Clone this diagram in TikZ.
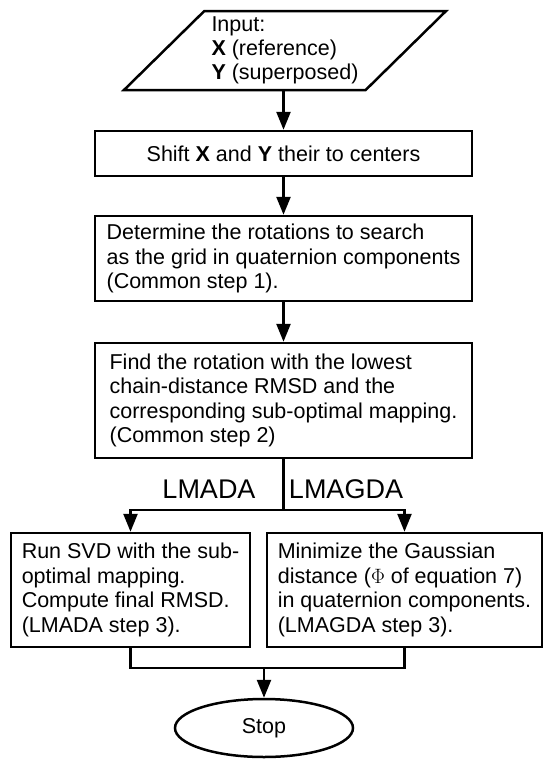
\documentclass[tikz,border=0pt]{standalone}
\usepackage{fontspec}
\setmainfont{Liberation Sans}
\usetikzlibrary{shapes.geometric, arrows.meta, positioning, calc}

\begin{document}
\begin{tikzpicture}[x=1pt, y=-1pt,
    flowline/.style={line width=2.5pt},
    flowarrow/.style={line width=2.5pt, -{Triangle[length=18pt,width=14pt]}},
    procbox/.style={draw, line width=2.5pt, rectangle, inner sep=4pt,
        align=left, font=\fontsize{21.5}{24.5}\selectfont},
    iobox/.style={draw, line width=2.5pt, trapezium, trapezium left angle=44,
        trapezium right angle=136, trapezium stretches=true, align=left,
        font=\fontsize{21.5}{24}\selectfont},
    termbox/.style={draw, line width=2.5pt, ellipse, font=\fontsize{21.5}{25}\selectfont},
    branchlabel/.style={font=\fontsize{27}{30}\selectfont}]
    \useasboundingbox (0,0) rectangle (550,764);

    % input / output
    \node[iobox, minimum width=323pt, minimum height=79pt] (input) at (285,50.5)
        {Input:\\\textbf{X} (reference)\\\textbf{Y} (superposed)};
    \node[termbox, minimum width=178pt, minimum height=58pt] (stop) at (264,728) {Stop};

    % common steps
    \node[procbox, align=center, minimum width=377pt, minimum height=45pt] (shift) at (283.5,153.5)
        {Shift \textbf{X} and \textbf{Y} their to centers};
    \node[procbox, minimum width=377pt, minimum height=85pt] (grid) at (283.5,258.5)
        {Determine the rotations to search\\as the grid in quaternion components\\(Common step 1).};
    \node[procbox, minimum width=377pt, minimum height=115pt] (find) at (283.5,400.5)
        {Find the rotation with the lowest\\chain-distance RMSD and the\\corresponding sub-optimal mapping.\\(Common step 2)};

    % method steps
    \node[procbox, minimum width=239pt, minimum height=114pt] (svd) at (130.5,590)
        {Run SVD with the sub-\\optimal mapping.\\Compute final RMSD.\\(LMADA step 3).};
    \node[procbox, minimum width=275pt, minimum height=114pt] (gauss) at (404.5,590)
        {Minimize the Gaussian\\distance ($\Phi$ of equation 7)\\in quaternion components.\\(LMAGDA step 3).};

    \node[branchlabel] (lmada) at (209,489) {LMADA};
    \node[branchlabel] (lmagda) at (346,489) {LMAGDA};

    % connectors
    \coordinate (split) at (283.5,510);
    \coordinate (merge) at (264,668);

    \draw[flowarrow] (shift.north |- input.south) -- (shift.north);
    \draw[flowarrow] (shift) -- (grid);
    \draw[flowarrow] (grid) -- (find);
    \draw[flowline] (find.south) -- (split);
    \draw[flowarrow] (split) -| (svd.north);
    \draw[flowarrow] (split) -| (gauss.north);
    \draw[flowline] (svd.south) |- (merge) -| (gauss.south);
    \draw[flowarrow] (merge) -- (stop.north);
\end{tikzpicture}
\end{document}
